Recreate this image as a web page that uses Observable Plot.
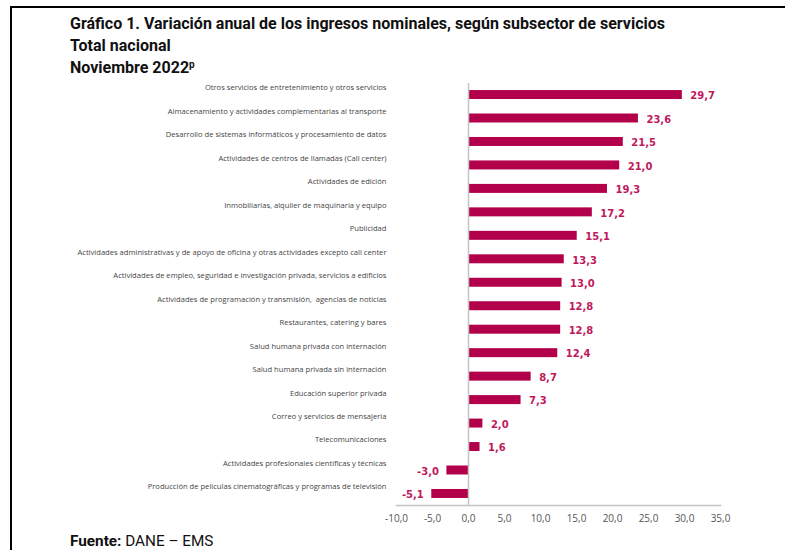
<!DOCTYPE html>
<html>
<head>
<meta charset="utf-8">
<script src="https://cdn.jsdelivr.net/npm/d3@7"></script>
<script src="https://cdn.jsdelivr.net/npm/@observablehq/plot@0.6"></script>
<style>
  html, body { margin: 0; padding: 0; background: #fff; }
  body { width: 785px; height: 550px; position: relative; overflow: hidden; font-family: Roboto, "Open Sans", sans-serif; }
  #frame { position: absolute; left: 10px; top: 6px; width: 780px; height: 560px; border-left: 2px solid #000; border-top: 2px solid #000; }
  #title { position: absolute; left: 70px; top: 12.5px; font-weight: 700; font-size: 16px; line-height: 22.3px; color: #111; }
  #title sup { font-size: 10px; vertical-align: 5px; line-height: 0; }
  #source { position: absolute; left: 70px; top: 532px; font-size: 15.3px; color: #111; }
  #chart { position: absolute; left: 0; top: 0; }
</style>
</head>
<body>
<div id="frame"></div>
<div id="chart"></div>
<div id="title">Gráfico 1. Variación anual de los ingresos nominales, según subsector de servicios<br>Total nacional<br>Noviembre 2022<sup>p</sup></div>
<div id="source"><b>Fuente:</b> DANE – EMS</div>
<script>
const categories = [
  "Otros servicios de entretenimiento y otros servicios",
  "Almacenamiento y actividades complementarias al transporte",
  "Desarrollo de sistemas informáticos y procesamiento de datos",
  "Actividades de centros de llamadas (Call center)",
  "Actividades de edición",
  "Inmobiliarias, alquiler de maquinaria y equipo",
  "Publicidad",
  "Actividades administrativas y de apoyo de oficina y otras actividades excepto call center",
  "Actividades de empleo, seguridad e investigación privada, servicios a edificios",
  "Actividades de programación y transmisión,  agencias de noticias",
  "Restaurantes, catering y bares",
  "Salud humana privada con internación",
  "Salud humana privada sin internación",
  "Educación superior privada",
  "Correo y servicios de mensajería",
  "Telecomunicaciones",
  "Actividades profesionales científicas y técnicas",
  "Producción de películas cinematográficas y programas de televisión"
];
const values = [29.7, 23.6, 21.5, 21.0, 19.3, 17.2, 15.1, 13.3, 13.0, 12.8, 12.8, 12.4, 8.7, 7.3, 2.0, 1.6, -3.0, -5.1];
const xTicks = [-10, -5, 0, 5, 10, 15, 20, 25, 30, 35];

const data = categories.map((c, i) => ({category: c, value: values[i]}));
const fmt = v => d3.format(".1f")(v).replace(".", ",").replace("−", "-");

const chart = Plot.plot({
  width: 785,
  height: 550,
  marginLeft: 396,
  marginRight: 65,
  marginTop: 83,
  marginBottom: 45,
  style: {fontFamily: "Open Sans, sans-serif", background: "transparent", overflow: "visible"},
  x: {domain: [-10, 35], ticks: xTicks, tickFormat: fmt},
  y: {domain: categories, paddingInner: 0.617, paddingOuter: 0.3, round: false},
  marks: [
    Plot.barX(data, {x: "value", y: "category", fill: "#b3004b"}),
    Plot.ruleX([0], {stroke: "#c4c4c4", strokeWidth: 1.5}),
    Plot.frame({anchor: "bottom", stroke: "#c4c4c4", strokeWidth: 1.5}),
    Plot.axisX({ticks: xTicks, tickFormat: fmt, tickSize: 0, tickPadding: 9, fontSize: 10, fill: "#555", label: null}),
    Plot.axisY({tickSize: 0, tickPadding: 10, dy: -7, fontSize: 7.6, fill: "#444", label: null}),
    Plot.text(data.filter(d => d.value >= 0), {x: "value", y: "category", text: d => fmt(d.value), textAnchor: "start", dx: 8, dy: 1, fill: "#c0185c", fontWeight: "bold", fontSize: 10, fontFamily: "DejaVu Sans"}),
    Plot.text(data.filter(d => d.value < 0), {x: "value", y: "category", text: d => fmt(d.value), textAnchor: "end", dx: -8, dy: 1, fill: "#c0185c", fontWeight: "bold", fontSize: 10, fontFamily: "DejaVu Sans"})
  ]
});
document.getElementById("chart").appendChild(chart);
</script>
</body>
</html>
